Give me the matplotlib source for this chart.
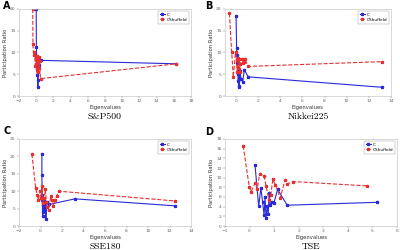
import matplotlib
matplotlib.use("Agg")
import matplotlib.pyplot as plt

# ---- data ----
a_c_x = [0.0, 0.02, 0.05, 0.07, 0.09, 0.1, 0.12, 0.14, 0.15, 0.17, 0.2, 0.22, 0.25, 0.3, 0.5, 16.3]
a_c_y = [20, 11.2, 9, 7.5, 8.8, 6.5, 7.8, 4.8, 6.2, 3.7, 2.1, 5.5, 7, 7.2, 8.2, 7.4]
a_s_x = [-0.4, -0.38, -0.3, -0.2, -0.1, 0.0, 0.05, 0.1, 0.15, 0.2, 0.25, 0.3, 0.35, 0.4, 0.5, 16.3]
a_s_y = [20, 12, 9.5, 10, 7, 8.8, 6, 9.2, 7.5, 8.5, 5.5, 9, 6.5, 8, 4, 7.4]

b_c_x = [0.0, 0.05, 0.08, 0.1, 0.12, 0.15, 0.18, 0.2, 0.22, 0.25, 0.28, 0.3, 0.35, 0.45, 0.6, 0.75, 1.1, 13.2]
b_c_y = [18.5, 11, 9.5, 7.5, 8.5, 5, 6.2, 3.5, 5.5, 2.2, 4, 2, 5.8, 3.8, 3.3, 6, 4.4, 2.0]
b_s_x = [-0.6, -0.4, -0.25, -0.05, 0.05, 0.1, 0.15, 0.2, 0.3, 0.35, 0.4, 0.5, 0.6, 0.65, 0.75, 0.8, 1.1, 13.2]
b_s_y = [19, 10.2, 4.4, 10, 8.5, 5.5, 8.8, 6.5, 8.4, 5.5, 7.3, 8.6, 7.5, 8.5, 7.8, 8.4, 6.8, 7.9]

c_c_x = [0.13, 0.13, 0.15, 0.17, 0.2, 0.22, 0.25, 0.28, 0.3, 0.35, 0.4, 0.45, 0.5, 0.55, 0.65, 0.8, 3.2, 12.5]
c_c_y = [20.7, 14.7, 9, 7.5, 3, 6, 4, 7.5, 5, 6.8, 4.5, 7, 2, 5.5, 6.8, 6.2, 7.8, 5.8]
c_s_x = [-0.8, -0.45, -0.3, -0.2, -0.05, 0.05, 0.15, 0.25, 0.35, 0.45, 0.55, 0.65, 0.78, 0.95, 1.05, 1.2, 1.35, 1.5, 1.7, 12.5]
c_s_y = [20.7, 10.8, 9, 7.5, 10, 8, 11.5, 6.5, 8, 10.5, 7, 5.5, 4.6, 8.5, 7.5, 5.8, 7.5, 8.5, 10, 7.2]

d_c_x = [0.22, 0.37, 0.46, 0.53, 0.59, 0.63, 0.67, 0.72, 0.76, 0.80, 0.84, 0.91, 0.99, 1.14, 1.53, 5.2]
d_c_y = [12.7, 4.1, 7.8, 5.0, 2.2, 5.9, 1.6, 4.1, 2.5, 6.9, 4.3, 5.0, 4.7, 7.6, 4.3, 4.9]
d_s_x = [-0.26, -0.01, 0.06, 0.22, 0.31, 0.41, 0.59, 0.67, 0.79, 0.86, 0.95, 1.05, 1.25, 1.44, 1.53, 1.76, 4.76]
d_s_y = [16.6, 8.0, 7.1, 8.8, 7.6, 10.8, 10.4, 8.3, 5.4, 6.4, 9.7, 8.5, 5.8, 9.5, 8.7, 9.2, 8.3]

titles = ['S&P500', 'Nikkei225', 'SSE180', 'TSE']
letters = ['A', 'B', 'C', 'D']
xlims = [(-2, 18), (-1, 14), (-2, 14), (-1, 6)]
ylims = [(0, 20), (0, 20), (0, 25), (0, 18)]
xticks = [range(-2, 19, 2), range(0, 15, 2), range(-2, 15, 2), range(-1, 7, 1)]
yticks = [range(0, 21, 5), range(0, 21, 5), range(0, 26, 5), range(0, 19, 2)]
series = [(a_c_x, a_c_y, a_s_x, a_s_y), (b_c_x, b_c_y, b_s_x, b_s_y),
          (c_c_x, c_c_y, c_s_x, c_s_y), (d_c_x, d_c_y, d_s_x, d_s_y)]

rects = [[19/400, 1-96/250, 172/400, 87/250],
         [225/400, 1-96/250, 166/400, 87/250],
         [19/400, 1-226/250, 172/400, 87/250],
         [225/400, 1-226/250, 172/400, 87/250]]
letter_pos = [(3/400, 1-6/250), (205/400, 1-6/250), (4/400, 1-131/250), (205/400, 1-132/250)]

fig = plt.figure(figsize=(4, 2.5), dpi=100)
blue = '#2a2ad8'
red = '#e83030'
for i in range(4):
    ax = fig.add_axes(rects[i])
    cx, cy, sx, sy = series[i]
    ax.plot(cx, cy, '-', color=blue, lw=0.8, marker='*', ms=2.2, label='C')
    ax.plot(sx, sy, '--', color=red, lw=0.8, marker='*', ms=2.2, label='CShuffeld')
    ax.set_xlim(*xlims[i])
    ax.set_ylim(*ylims[i])
    ax.set_xticks(list(xticks[i]))
    ax.set_yticks(list(yticks[i]))
    ax.tick_params(labelsize=3.2, length=1.2, width=0.3, pad=1.2, colors='#666666')
    for sp in ax.spines.values():
        sp.set_color('#bbbbbb')
        sp.set_linewidth(0.4)
    ax.set_xlabel('Eigenvalues', fontsize=3.8, labelpad=1.5, color='#333333')
    ax.set_ylabel('Participation Ratio', fontsize=3.8, labelpad=1.5, color='#333333')
    leg = ax.legend(loc='upper right', fontsize=3.1, handlelength=1.1, borderpad=0.4,
                    labelspacing=0.25, handletextpad=0.4, fancybox=False, framealpha=1)
    leg.get_frame().set_linewidth(0.3)
    leg.get_frame().set_edgecolor('#999999')
    r = rects[i]
    fig.text(r[0] + r[2] / 2, r[1] - 21/250, titles[i], family=['cmr10', 'DejaVu Serif'],
             ha='center', va='center', fontsize=7)
    fig.text(letter_pos[i][0], letter_pos[i][1], letters[i], fontsize=7,
             fontweight='bold', ha='left', va='center')

fig.savefig('out.png', dpi=100)
